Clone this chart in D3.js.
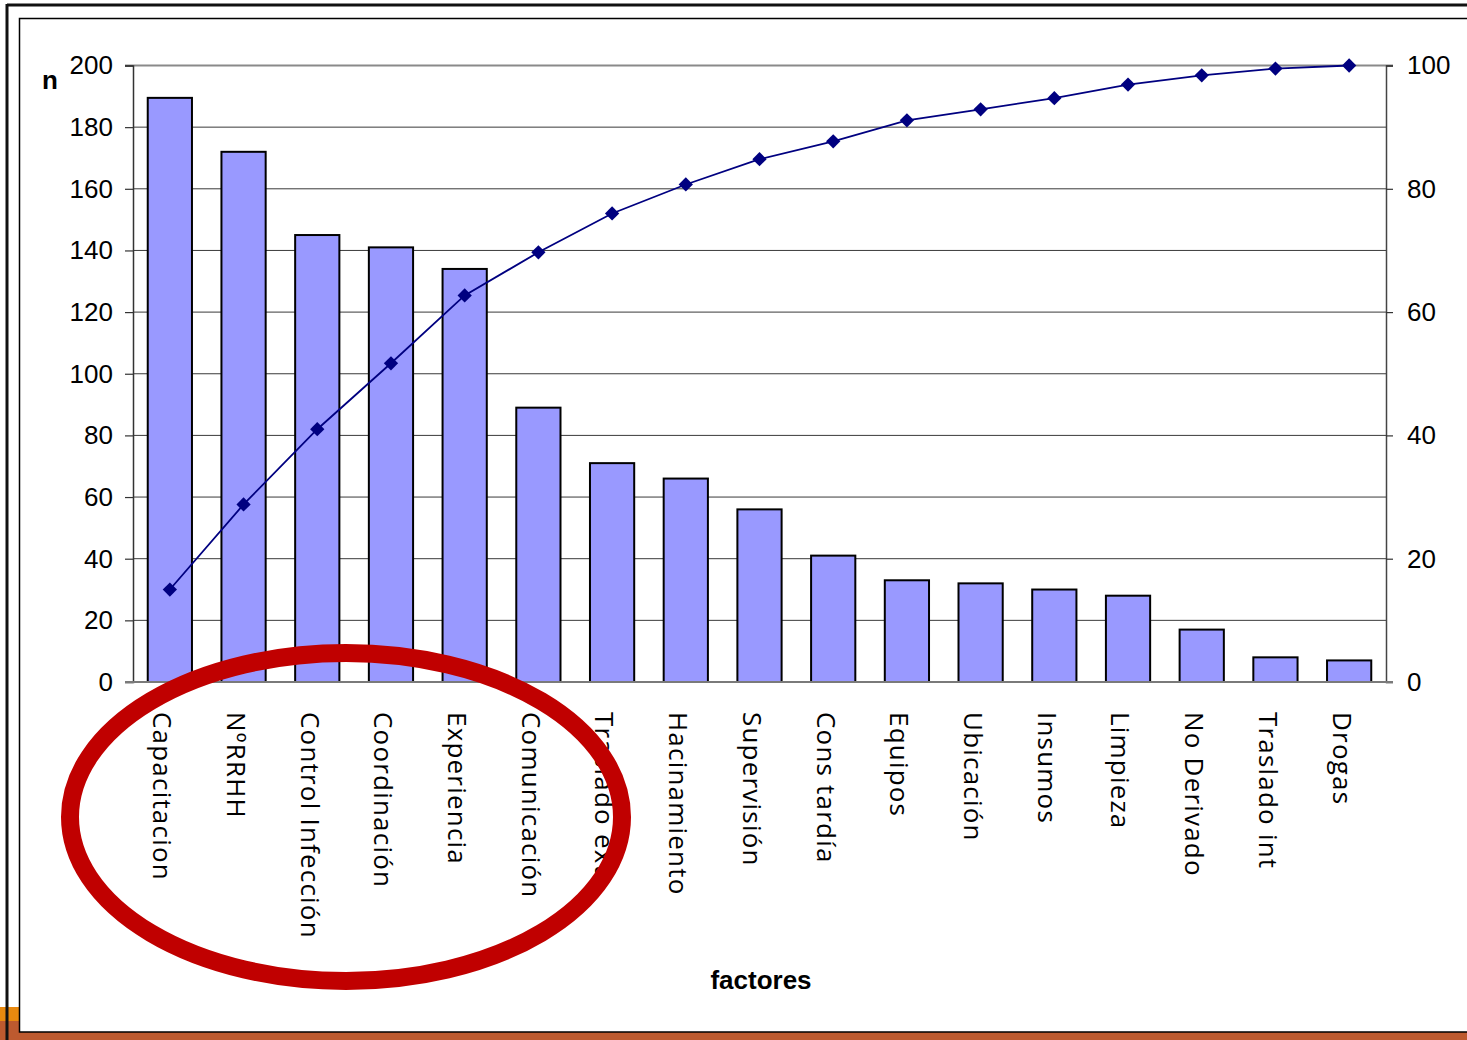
<!DOCTYPE html>
<html>
<head>
<meta charset="utf-8">
<script src="https://cdn.jsdelivr.net/npm/d3@7"></script>
<style>
  html, body { margin: 0; padding: 0; background: #fff; }
  svg { display: block; }
</style>
</head>
<body>
<script>
// Pareto of contributing factors: counts per factor and cumulative percentage
const categories = ["Capacitacion", "NºRRHH", "Control Infección", "Coordinación", "Experiencia",
  "Comunicación", "Traslado ext", "Hacinamiento", "Supervisión", "Cons tardía", "Equipos",
  "Ubicación", "Insumos", "Limpieza", "No Derivado", "Traslado int", "Drogas"];
const counts = [189.5, 172, 145, 141, 134, 89, 71, 66, 56, 41, 33, 32, 30, 28, 17, 8, 7];
const cumulativePct = [15, 28.8, 41, 51.7, 62.7, 69.7, 76, 80.7, 84.8, 87.7, 91.1, 92.9, 94.7, 96.9, 98.4, 99.5, 100];
const leftTicks = [0, 20, 40, 60, 80, 100, 120, 140, 160, 180, 200];
const rightTicks = [0, 20, 40, 60, 80, 100];

const W = 1467, H = 1040;
const plot = { left: 133, right: 1386, top: 65.5, bottom: 682 };

const svg = d3.select("body").append("svg").attr("width", W).attr("height", H);

// page frame and footer bands
svg.append("rect").attr("x", 0).attr("y", 1007).attr("width", 19).attr("height", 14).attr("fill", "#e8890f");
svg.append("rect").attr("x", 0).attr("y", 1021).attr("width", 19).attr("height", 19).attr("fill", "#bd5a2f");
svg.append("rect").attr("x", 19).attr("y", 1032).attr("width", W - 19).attr("height", 8).attr("fill", "#bd5a2f");
svg.append("line").attr("x1", 7).attr("y1", 5).attr("x2", W).attr("y2", 5)
  .attr("stroke", "#111").attr("stroke-width", 3);
svg.append("line").attr("x1", 7).attr("y1", 4).attr("x2", 7).attr("y2", H)
  .attr("stroke", "#111").attr("stroke-width", 3);
svg.append("path").attr("d", `M${W + 5},18.5 H19.5 V1032 H${W + 5}`)
  .attr("fill", "none").attr("stroke", "#000").attr("stroke-width", 1.5);

const x = d3.scaleBand().domain(categories).range([plot.left, plot.right])
  .paddingInner(0.4).paddingOuter(0.2);
const y = d3.scaleLinear().domain([0, 200]).range([plot.bottom, plot.top]);
const y2 = d3.scaleLinear().domain([0, 100]).range([plot.bottom, plot.top]);

// horizontal gridlines
svg.append("g").selectAll("line").data(leftTicks.filter(t => t > 0 && t < 200)).join("line")
  .attr("x1", plot.left).attr("x2", plot.right)
  .attr("y1", d => y(d)).attr("y2", d => y(d))
  .attr("stroke", "#3a3a3a").attr("stroke-width", 1);
svg.append("line").attr("x1", plot.left - 8).attr("x2", plot.right + 7)
  .attr("y1", y(200)).attr("y2", y(200)).attr("stroke", "#8a8a8a").attr("stroke-width", 2);

// left axis
const axL = svg.append("g").attr("transform", `translate(${plot.left},0)`)
  .call(d3.axisLeft(y).tickValues(leftTicks).tickSize(8).tickPadding(12));
axL.select(".domain").attr("stroke", "#333").attr("stroke-width", 1.5);
axL.selectAll(".tick line").attr("stroke", "#333").attr("stroke-width", 1.2);
axL.selectAll(".tick text").attr("font-family", "'Liberation Sans', Arial, sans-serif")
  .attr("font-size", 26).attr("fill", "#000");

// right axis
const axR = svg.append("g").attr("transform", `translate(${plot.right},0)`)
  .call(d3.axisRight(y2).tickValues(rightTicks).tickSize(7).tickPadding(14));
axR.select(".domain").attr("stroke", "#444").attr("stroke-width", 1.5);
axR.selectAll(".tick line").attr("stroke", "#333").attr("stroke-width", 1.2);
axR.selectAll(".tick text").attr("font-family", "'Liberation Sans', Arial, sans-serif")
  .attr("font-size", 26).attr("fill", "#000");

// bars
svg.append("g").selectAll("rect").data(counts).join("rect")
  .attr("x", (d, i) => x(categories[i]))
  .attr("y", d => y(d))
  .attr("width", x.bandwidth())
  .attr("height", d => y(0) - y(d))
  .attr("fill", "#9999ff").attr("stroke", "#000").attr("stroke-width", 2);

// baseline
svg.append("line").attr("x1", plot.left - 8).attr("x2", plot.right + 7)
  .attr("y1", y(0)).attr("y2", y(0)).attr("stroke", "#7a7a7a").attr("stroke-width", 2);

// cumulative line with diamond markers
const cx = i => x(categories[i]) + x.bandwidth() / 2;
svg.append("path").datum(cumulativePct)
  .attr("d", d3.line().x((d, i) => cx(i)).y(d => y2(d)))
  .attr("fill", "none").attr("stroke", "#000080").attr("stroke-width", 1.8);
svg.append("g").selectAll("path").data(cumulativePct).join("path")
  .attr("d", d3.symbol().type(d3.symbolDiamond2).size(130))
  .attr("transform", (d, i) => `translate(${cx(i)},${y2(d)})`)
  .attr("fill", "#000080");

// category labels, rotated to read downward
svg.append("g").selectAll("text").data(categories).join("text")
  .attr("transform", d => `translate(${x(d) + x.bandwidth() / 2},712) rotate(90)`)
  .attr("dy", "0.64em")
  .attr("font-family", "'Open Sans', sans-serif")
  .attr("font-size", 26).attr("letter-spacing", 1.2).attr("fill", "#000")
  .text(d => d);

// axis titles
svg.append("text").attr("x", 50).attr("y", 89).attr("text-anchor", "middle")
  .attr("font-family", "'Liberation Sans', Arial, sans-serif").attr("font-weight", "bold")
  .attr("font-size", 26).text("n");
svg.append("text").attr("x", 761).attr("y", 989).attr("text-anchor", "middle")
  .attr("font-family", "'Liberation Sans', Arial, sans-serif").attr("font-weight", "bold")
  .attr("font-size", 26).text("factores");

// highlight ring around the leading factors
svg.append("ellipse").attr("cx", 346).attr("cy", 817).attr("rx", 276).attr("ry", 164)
  .attr("fill", "none").attr("stroke", "#c00000").attr("stroke-width", 18);
</script>
</body>
</html>
